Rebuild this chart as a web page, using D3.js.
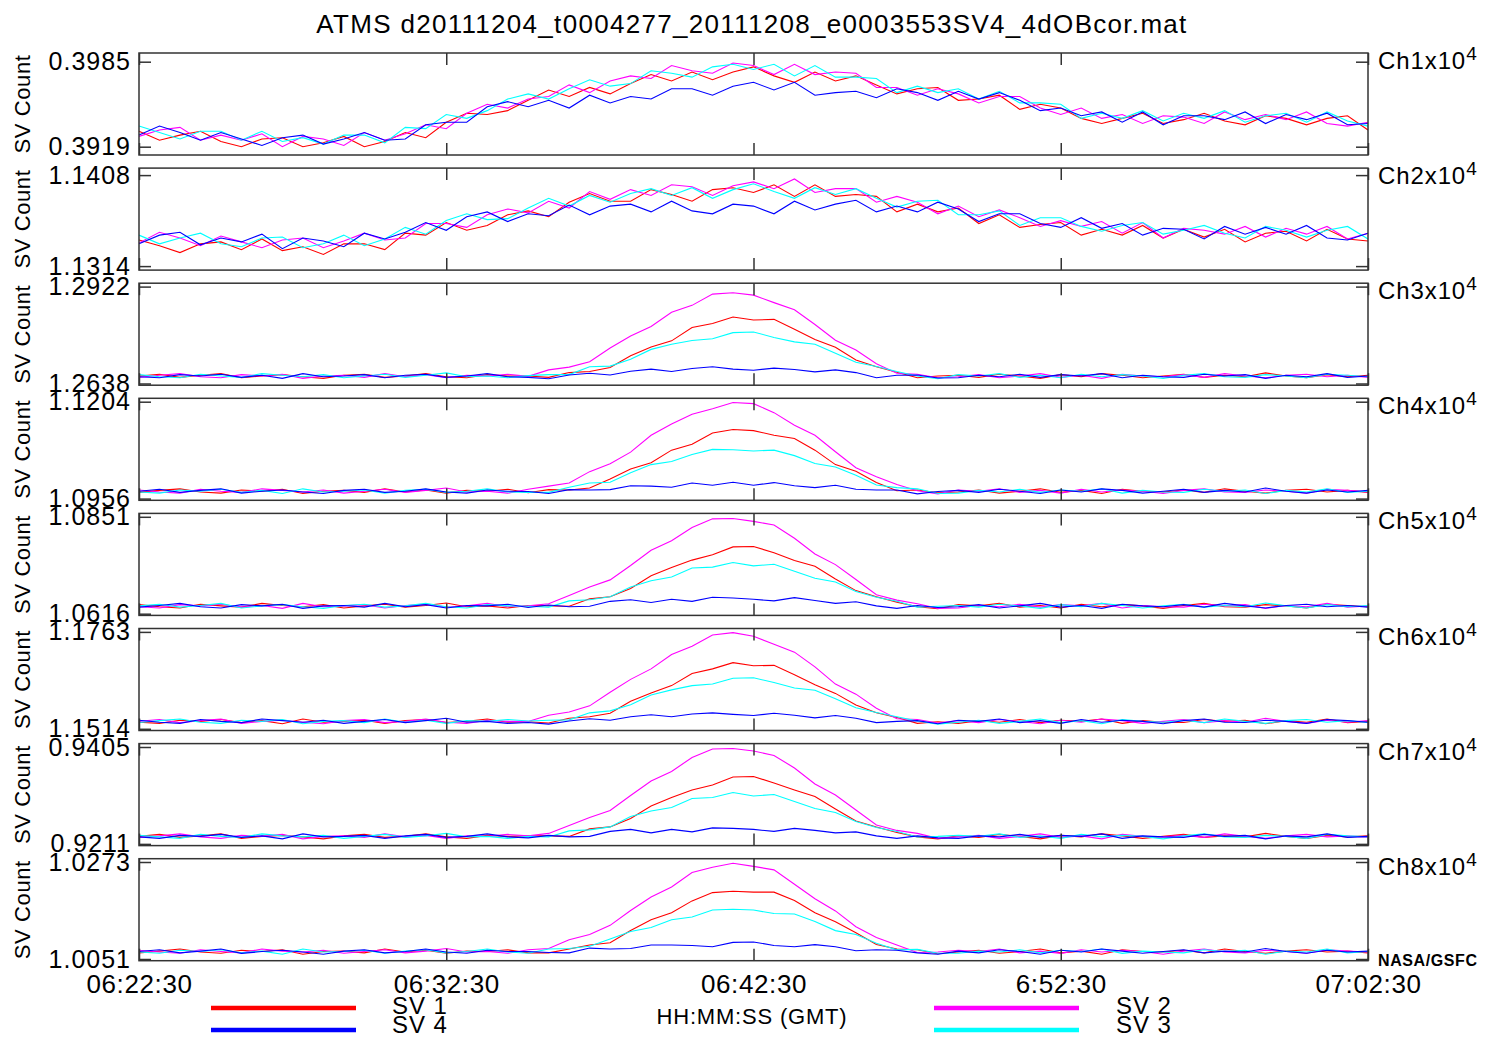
<!DOCTYPE html>
<html>
<head>
<meta charset="utf-8">
<script src="https://cdn.jsdelivr.net/npm/d3@7"></script>
<style>
  body { margin: 0; background: #fff; }
  svg text { font-family: "Liberation Sans", Arial, Helvetica, sans-serif; fill: #000; }
</style>
</head>
<body>
<script>
// ---------- data (space-view counts; axis labels are counts / 10^4) ----------
const titleText = "ATMS d20111204_t0004277_20111208_e0003553SV4_4dOBcor.mat";
const xTickSeconds = [0, 600, 1200, 1800, 2400];   // seconds after 06:22:30
const xTickLabels = ["06:22:30", "06:32:30", "06:42:30", "6:52:30", "07:02:30"];
const sampleStep = 40;                              // seconds between samples
const channelNames = ["Ch1", "Ch2", "Ch3", "Ch4", "Ch5", "Ch6", "Ch7", "Ch8"];
const channelMin = [3919, 11314, 12638, 10956, 10616, 11514, 9211, 10051];
const channelMax = [3985, 11408, 12922, 11204, 10851, 11763, 9405, 10273];
const svNames = ["SV 1", "SV 2", "SV 3", "SV 4"];

const ch1Sv1 = [3931,3924,3928,3931,3923,3919,3925,3926,3919,3922,3927,3919,3923,3930,3926,3938,3945,3944,3947,3955,3963,3958,3965,3960,3968,3975,3970,3977,3971,3977,3981,3974,3969,3977,3970,3974,3967,3960,3964,3965,3955,3956,3959,3948,3952,3949,3941,3937,3941,3945,3937,3940,3945,3939,3936,3943,3941,3936,3941,3943,3932];
const ch1Sv2 = [3927,3932,3934,3924,3928,3924,3929,3919,3927,3925,3920,3930,3924,3929,3936,3933,3945,3952,3949,3956,3958,3967,3961,3970,3974,3972,3982,3978,3976,3984,3982,3975,3983,3975,3977,3976,3965,3965,3959,3964,3960,3953,3958,3958,3949,3944,3949,3941,3944,3937,3943,3942,3937,3946,3940,3944,3940,3946,3937,3935,3938];
const ch1Sv3 = [3935,3930,3925,3931,3931,3924,3931,3923,3926,3921,3928,3928,3922,3934,3933,3944,3941,3947,3956,3960,3956,3964,3971,3966,3968,3978,3976,3973,3981,3983,3979,3983,3974,3982,3973,3973,3972,3961,3966,3961,3964,3956,3962,3953,3953,3952,3941,3945,3941,3947,3939,3945,3941,3947,3938,3943,3945,3938,3946,3939,3935];
const ch1Sv4 = [3928,3935,3930,3924,3930,3925,3920,3926,3928,3921,3925,3930,3924,3925,3936,3938,3938,3950,3954,3950,3955,3949,3959,3953,3958,3956,3964,3964,3959,3966,3969,3963,3969,3959,3961,3962,3957,3964,3961,3955,3962,3956,3961,3955,3947,3949,3943,3946,3938,3946,3936,3943,3943,3940,3946,3937,3944,3940,3945,3936,3937];

const ch2Sv1 = [11341,11335,11328,11337,11339,11331,11342,11330,11334,11326,11337,11337,11331,11348,11346,11359,11351,11356,11367,11371,11365,11380,11389,11381,11381,11393,11388,11381,11393,11395,11390,11398,11386,11398,11386,11388,11386,11370,11378,11370,11374,11358,11367,11354,11357,11359,11346,11352,11346,11356,11343,11352,11344,11352,11339,11348,11350,11340,11352,11342,11340];
const ch2Sv2 = [11338,11349,11343,11335,11345,11339,11333,11341,11343,11333,11340,11348,11341,11343,11358,11358,11354,11367,11373,11369,11381,11374,11391,11383,11393,11387,11398,11396,11387,11397,11401,11394,11404,11390,11394,11394,11380,11386,11380,11368,11376,11365,11372,11364,11355,11361,11355,11360,11348,11359,11343,11353,11351,11347,11355,11344,11353,11347,11355,11342,11348];
const ch2Sv3 = [11346,11337,11343,11348,11337,11334,11343,11344,11333,11337,11346,11335,11342,11354,11347,11361,11368,11362,11363,11374,11384,11376,11387,11380,11389,11394,11387,11395,11384,11393,11399,11391,11384,11395,11388,11394,11384,11375,11381,11382,11367,11367,11371,11356,11364,11364,11355,11350,11356,11359,11347,11351,11356,11348,11343,11355,11351,11344,11351,11355,11342];
const ch2Sv4 = [11337,11346,11349,11336,11343,11339,11347,11332,11343,11340,11334,11348,11342,11349,11359,11351,11365,11370,11360,11368,11366,11377,11367,11376,11378,11370,11381,11371,11368,11378,11376,11368,11381,11372,11378,11382,11370,11376,11370,11380,11373,11360,11368,11368,11358,11354,11364,11353,11358,11346,11353,11352,11342,11355,11347,11354,11347,11356,11343,11341,11348];

const ch3Sv1 = [12660,12665,12656,12662,12667,12655,12660,12664,12658,12653,12662,12665,12656,12660,12667,12658,12655,12664,12660,12660,12656,12670,12673,12685,12719,12745,12763,12802,12814,12833,12824,12826,12797,12767,12744,12707,12687,12671,12655,12660,12662,12656,12665,12660,12653,12664,12658,12667,12662,12655,12660,12665,12656,12662,12658,12669,12660,12655,12664,12658,12662];
const ch3Sv2 = [12656,12662,12667,12658,12655,12664,12660,12665,12653,12660,12662,12656,12667,12658,12664,12655,12662,12660,12665,12659,12678,12686,12702,12742,12777,12805,12847,12867,12900,12904,12897,12875,12854,12811,12765,12736,12696,12668,12665,12655,12658,12664,12655,12660,12667,12656,12662,12653,12665,12660,12658,12664,12656,12667,12660,12655,12662,12665,12658,12662,12656];
const ch3Sv3 = [12664,12658,12655,12665,12660,12656,12667,12662,12658,12664,12655,12660,12665,12656,12662,12669,12658,12660,12655,12661,12664,12664,12687,12689,12709,12738,12753,12764,12769,12787,12789,12773,12760,12753,12727,12700,12688,12673,12660,12652,12664,12660,12667,12656,12662,12655,12665,12658,12664,12660,12653,12662,12667,12658,12656,12664,12660,12655,12665,12662,12658];
const ch3Sv4 = [12658,12655,12664,12660,12665,12656,12662,12653,12667,12658,12660,12664,12655,12662,12665,12656,12660,12667,12658,12656,12652,12663,12668,12663,12674,12680,12673,12682,12687,12680,12677,12683,12679,12672,12678,12670,12655,12662,12663,12654,12655,12662,12658,12665,12656,12664,12660,12667,12655,12662,12658,12656,12665,12660,12664,12653,12662,12658,12667,12656,12660];

const ch4Sv1 = [10972,10977,10981,10973,10970,10978,10975,10980,10969,10975,10977,10972,10981,10973,10978,10970,10977,10975,10980,10971,10979,10978,10983,11006,11032,11048,11080,11095,11124,11133,11130,11118,11110,11080,11043,11026,10997,10976,10978,10971,10973,10978,10970,10975,10981,10972,10977,10969,10980,10975,10973,10978,10972,10981,10975,10970,10977,10980,10973,10977,10972];
const ch4Sv2 = [10978,10973,10970,10980,10975,10972,10981,10977,10973,10978,10970,10975,10980,10972,10977,10983,10973,10975,10970,10980,10988,10996,11025,11045,11075,11118,11147,11172,11186,11202,11199,11176,11144,11118,11076,11035,11012,10992,10976,10968,10978,10975,10981,10972,10977,10970,10980,10973,10978,10975,10969,10977,10981,10973,10972,10978,10975,10970,10980,10977,10973];
const ch4Sv3 = [10973,10970,10978,10975,10980,10972,10977,10969,10981,10973,10975,10978,10970,10977,10980,10972,10975,10981,10973,10972,10972,10985,10996,10998,11022,11043,11051,11069,11082,11081,11078,11080,11066,11046,11037,11016,10991,10984,10981,10969,10970,10977,10973,10980,10972,10978,10975,10981,10970,10977,10973,10972,10980,10975,10978,10969,10977,10973,10981,10972,10975];
const ch4Sv4 = [10975,10980,10972,10977,10981,10970,10975,10978,10973,10969,10977,10980,10972,10975,10981,10973,10970,10978,10975,10974,10969,10979,10978,10979,10989,10988,10985,10996,10990,10998,10990,10997,10989,10984,10990,10980,10978,10978,10968,10974,10977,10972,10980,10975,10969,10978,10973,10981,10977,10970,10975,10980,10972,10977,10973,10983,10975,10970,10978,10973,10977];

const ch5Sv1 = [10638,10633,10630,10639,10635,10632,10641,10636,10633,10638,10630,10635,10639,10632,10636,10642,10633,10635,10630,10636,10635,10634,10652,10657,10677,10708,10728,10746,10759,10778,10779,10764,10745,10731,10700,10672,10657,10644,10633,10628,10638,10635,10641,10632,10636,10630,10639,10633,10638,10635,10629,10636,10641,10633,10632,10638,10635,10630,10639,10636,10633];
const ch5Sv2 = [10633,10630,10638,10635,10639,10632,10636,10629,10641,10633,10635,10638,10630,10636,10639,10632,10635,10641,10633,10635,10640,10660,10681,10698,10733,10770,10793,10825,10846,10847,10840,10831,10799,10761,10735,10699,10662,10649,10640,10629,10630,10636,10633,10639,10632,10638,10635,10641,10630,10636,10633,10632,10639,10635,10638,10629,10636,10633,10641,10632,10635];
const ch5Sv3 = [10635,10639,10632,10636,10641,10630,10635,10638,10633,10629,10636,10639,10632,10635,10641,10633,10630,10638,10635,10634,10632,10647,10650,10657,10681,10696,10705,10727,10729,10740,10732,10736,10719,10702,10693,10670,10656,10646,10632,10634,10636,10632,10639,10635,10629,10638,10633,10641,10636,10630,10635,10639,10632,10636,10633,10642,10635,10630,10638,10633,10636];
const ch5Sv4 = [10632,10636,10641,10633,10630,10638,10635,10639,10629,10635,10636,10632,10641,10633,10638,10630,10636,10635,10639,10631,10637,10633,10634,10646,10650,10643,10651,10646,10656,10654,10651,10647,10655,10648,10641,10645,10635,10629,10636,10631,10633,10638,10630,10635,10641,10632,10636,10629,10639,10635,10633,10638,10632,10641,10635,10630,10636,10639,10633,10636,10632];

const ch6Sv1 = [11531,11528,11536,11533,11538,11530,11535,11527,11539,11531,11533,11536,11528,11535,11538,11530,11533,11539,11531,11532,11529,11541,11545,11554,11585,11606,11625,11656,11668,11684,11676,11677,11653,11627,11605,11575,11555,11543,11528,11532,11528,11535,11531,11538,11530,11536,11533,11539,11528,11535,11531,11530,11538,11533,11536,11527,11535,11531,11539,11530,11533];
const ch6Sv2 = [11533,11538,11530,11535,11539,11528,11533,11536,11531,11527,11535,11538,11530,11533,11539,11531,11528,11536,11533,11533,11549,11557,11573,11608,11641,11668,11705,11726,11755,11761,11752,11731,11711,11673,11629,11603,11567,11540,11538,11529,11535,11530,11538,11533,11527,11536,11531,11539,11535,11528,11533,11538,11530,11535,11531,11541,11533,11528,11536,11531,11535];
const ch6Sv3 = [11530,11535,11539,11531,11528,11536,11533,11538,11527,11533,11535,11530,11539,11531,11536,11528,11535,11533,11538,11534,11536,11537,11555,11560,11576,11601,11614,11625,11629,11644,11645,11633,11619,11613,11591,11568,11556,11545,11534,11526,11531,11536,11528,11533,11539,11530,11535,11527,11538,11533,11531,11536,11530,11539,11533,11528,11535,11538,11531,11535,11530];
const ch6Sv4 = [11536,11531,11528,11538,11533,11530,11539,11535,11531,11536,11528,11533,11538,11530,11535,11541,11531,11533,11528,11530,11526,11534,11540,11536,11545,11550,11545,11552,11555,11551,11548,11554,11549,11542,11548,11541,11530,11533,11535,11527,11536,11533,11539,11530,11535,11528,11538,11531,11536,11533,11527,11535,11539,11531,11530,11536,11533,11528,11538,11535,11531];

const ch7Sv1 = [9226,9230,9224,9227,9231,9222,9226,9228,9225,9221,9227,9230,9224,9226,9231,9225,9222,9228,9226,9227,9227,9226,9241,9245,9262,9287,9304,9319,9329,9345,9346,9333,9319,9306,9281,9257,9245,9234,9225,9221,9227,9224,9230,9226,9221,9228,9225,9231,9227,9222,9226,9230,9224,9227,9225,9232,9226,9222,9228,9225,9227];
const ch7Sv2 = [9224,9227,9231,9225,9222,9228,9226,9230,9221,9226,9227,9224,9231,9225,9228,9222,9227,9226,9230,9227,9232,9248,9264,9278,9308,9337,9356,9384,9401,9402,9397,9388,9363,9331,9309,9279,9249,9238,9232,9222,9225,9228,9222,9226,9231,9224,9227,9221,9230,9226,9225,9228,9224,9231,9226,9222,9227,9230,9225,9227,9224];
const ch7Sv3 = [9228,9225,9222,9230,9226,9224,9231,9227,9225,9228,9222,9226,9230,9224,9227,9232,9225,9226,9222,9226,9225,9237,9239,9245,9266,9277,9284,9302,9304,9314,9307,9310,9296,9282,9274,9256,9244,9236,9225,9226,9228,9226,9231,9224,9227,9222,9230,9225,9228,9226,9221,9227,9231,9225,9224,9228,9226,9222,9230,9227,9225];
const ch7Sv4 = [9225,9222,9228,9226,9230,9224,9227,9221,9231,9225,9226,9228,9222,9227,9230,9224,9226,9231,9225,9223,9228,9225,9226,9236,9240,9233,9240,9235,9243,9242,9240,9236,9242,9238,9233,9235,9227,9222,9227,9223,9222,9227,9225,9230,9224,9228,9226,9231,9222,9227,9225,9224,9230,9226,9228,9221,9227,9225,9231,9224,9226];

const ch8Sv1 = [10065,10069,10074,10067,10064,10071,10068,10072,10062,10068,10069,10065,10074,10067,10071,10064,10069,10068,10072,10065,10065,10074,10083,10088,10116,10141,10157,10184,10203,10206,10204,10204,10185,10157,10136,10111,10084,10074,10072,10063,10067,10071,10064,10068,10074,10065,10069,10062,10072,10068,10067,10071,10065,10074,10068,10064,10069,10072,10067,10069,10065];
const ch8Sv2 = [10071,10067,10064,10072,10068,10065,10074,10069,10067,10071,10064,10068,10072,10065,10069,10075,10067,10068,10064,10072,10075,10095,10107,10128,10162,10193,10216,10249,10261,10270,10263,10255,10222,10189,10161,10125,10100,10083,10066,10067,10071,10068,10074,10065,10069,10064,10072,10067,10071,10068,10062,10069,10074,10067,10065,10071,10068,10064,10072,10069,10067];
const ch8Sv3 = [10067,10064,10071,10068,10072,10065,10069,10062,10074,10067,10068,10071,10064,10069,10072,10065,10068,10074,10067,10064,10074,10075,10080,10097,10114,10123,10141,10147,10163,10165,10163,10155,10154,10137,10116,10107,10087,10072,10073,10064,10064,10069,10067,10072,10065,10071,10068,10074,10064,10069,10067,10065,10072,10068,10071,10062,10069,10067,10074,10065,10068];
const ch8Sv4 = [10068,10072,10065,10069,10074,10064,10068,10071,10067,10062,10069,10072,10065,10068,10074,10067,10064,10071,10068,10068,10066,10065,10076,10074,10075,10083,10083,10082,10079,10089,10090,10082,10079,10084,10079,10070,10072,10071,10065,10062,10069,10065,10072,10068,10062,10071,10067,10074,10069,10064,10068,10072,10065,10069,10067,10075,10068,10064,10071,10067,10069];

// ---------- layout ----------
const width = 1486, height = 1039;
const plotLeft = 139, plotRight = 1368;
const panelTop = 53, panelStep = 115.1, panelHeight = 102;
// pixel offsets (from panel top) of the upper and lower y tick of each panel
const tickInset = [[8.7, 93.7], [7, 98], [3.4, 100.3], [3.4, 100.3], [3.4, 100.3], [3.4, 100.3], [3.4, 100.3], [3.3, 100.3]];
const svColors = ["#ff0000", "#ff00ff", "#00ffff", "#0000ff"];
const frameColor = "#333";

const seriesByChannel = [
  [ch1Sv1, ch1Sv2, ch1Sv3, ch1Sv4], [ch2Sv1, ch2Sv2, ch2Sv3, ch2Sv4],
  [ch3Sv1, ch3Sv2, ch3Sv3, ch3Sv4], [ch4Sv1, ch4Sv2, ch4Sv3, ch4Sv4],
  [ch5Sv1, ch5Sv2, ch5Sv3, ch5Sv4], [ch6Sv1, ch6Sv2, ch6Sv3, ch6Sv4],
  [ch7Sv1, ch7Sv2, ch7Sv3, ch7Sv4], [ch8Sv1, ch8Sv2, ch8Sv3, ch8Sv4]
];
const channels = channelNames.map((name, i) => ({
  name, min: channelMin[i], max: channelMax[i], series: seriesByChannel[i]
}));

const svg = d3.select("body").append("svg")
  .attr("width", width)
  .attr("height", height);

const x = d3.scaleLinear()
  .domain([xTickSeconds[0], xTickSeconds[xTickSeconds.length - 1]])
  .range([plotLeft, plotRight]);

// TITLE
svg.append("text")
  .attr("x", 752).attr("y", 33)
  .attr("text-anchor", "middle")
  .attr("font-size", 26)
  .style("letter-spacing", "1.3px")
  .text(titleText);

function styleAxis(a, fontSize, spacing) {
  a.select(".domain").remove();
  a.attr("font-size", fontSize);
  a.selectAll("line").attr("stroke", frameColor).attr("stroke-width", 1.5);
  a.selectAll("text").style("letter-spacing", spacing);
}

channels.forEach((ch, i) => {
  const top = panelTop + i * panelStep;
  const y = d3.scaleLinear()
    .domain([ch.min, ch.max])
    .range([top + tickInset[i][1], top + tickInset[i][0]]);

  const g = svg.append("g");

  const line = d3.line()
    .x((d, k) => x(k * sampleStep))
    .y(d => y(d));

  ch.series.forEach((s, j) => {
    g.append("path")
      .attr("d", line(s))
      .attr("fill", "none")
      .attr("stroke", svColors[j])
      .attr("stroke-width", 1.1);
  });

  // frame
  g.append("rect")
    .attr("x", plotLeft).attr("y", top)
    .attr("width", plotRight - plotLeft).attr("height", panelHeight)
    .attr("fill", "none")
    .attr("stroke", frameColor)
    .attr("stroke-width", 1.5);

  // y axes (ticks inside the box)
  const leftAxis = g.append("g")
    .attr("transform", `translate(${plotLeft},0)`)
    .call(d3.axisLeft(y).tickValues([ch.min, ch.max]).tickSize(-12).tickPadding(8)
      .tickFormat(v => (v / 1e4).toFixed(4)));
  styleAxis(leftAxis, 25, "1px");

  const rightAxis = g.append("g")
    .attr("transform", `translate(${plotRight},0)`)
    .call(d3.axisRight(y).tickValues([ch.min, ch.max]).tickSize(-12).tickFormat(""));
  styleAxis(rightAxis, 25, "1px");

  // x axes, top and bottom
  const topAxis = g.append("g")
    .attr("transform", `translate(0,${top})`)
    .call(d3.axisTop(x).tickValues(xTickSeconds).tickSize(-12).tickFormat(""));
  styleAxis(topAxis, 26, "0.5px");

  const last = i === channels.length - 1;
  const bottomAxis = g.append("g")
    .attr("transform", `translate(0,${top + panelHeight})`)
    .call(d3.axisBottom(x).tickValues(xTickSeconds).tickSize(-12).tickPadding(14)
      .tickFormat((d, k) => last ? xTickLabels[k] : ""));
  styleAxis(bottomAxis, 26, "0.6px");

  // SV Count label
  g.append("text")
    .attr("transform", `translate(30,${top + panelHeight / 2}) rotate(-90)`)
    .attr("text-anchor", "middle")
    .attr("font-size", 22)
    .style("letter-spacing", "0.6px")
    .text("SV Count");

  // channel label with x10^4
  const lab = g.append("text")
    .attr("x", 1378).attr("y", top + 16)
    .attr("font-size", 24)
    .style("letter-spacing", "0.9px");
  lab.append("tspan").text(`${ch.name}x10`);
  lab.append("tspan").attr("font-size", 19).attr("dy", -9).text("4");
});

// NASA/GSFC
svg.append("text")
  .attr("x", 1378).attr("y", 966)
  .attr("font-size", 16)
  .attr("font-weight", "bold")
  .style("letter-spacing", "0.6px")
  .text("NASA/GSFC");

// x axis title
svg.append("text")
  .attr("x", 752).attr("y", 1024)
  .attr("text-anchor", "middle")
  .attr("font-size", 22)
  .style("letter-spacing", "0.8px")
  .text("HH:MM:SS (GMT)");

// LEGEND (two columns: SV1/SV4 and SV2/SV3)
const legendOrder = [0, 3, 1, 2];
const legendCols = [{ x1: 211, x2: 356, tx: 392 }, { x1: 934, x2: 1079, tx: 1116 }];
const legendRows = [{ y: 1008, ty: 1014 }, { y: 1030, ty: 1033 }];
legendOrder.forEach((s, n) => {
  const col = legendCols[Math.floor(n / 2)];
  const row = legendRows[n % 2];
  svg.append("line")
    .attr("x1", col.x1).attr("x2", col.x2)
    .attr("y1", row.y).attr("y2", row.y)
    .attr("stroke", svColors[s])
    .attr("stroke-width", 4.5);
  svg.append("text")
    .attr("x", col.tx).attr("y", row.ty)
    .attr("font-size", 24)
    .style("letter-spacing", "0.9px")
    .text(svNames[s]);
});
</script>
</body>
</html>
